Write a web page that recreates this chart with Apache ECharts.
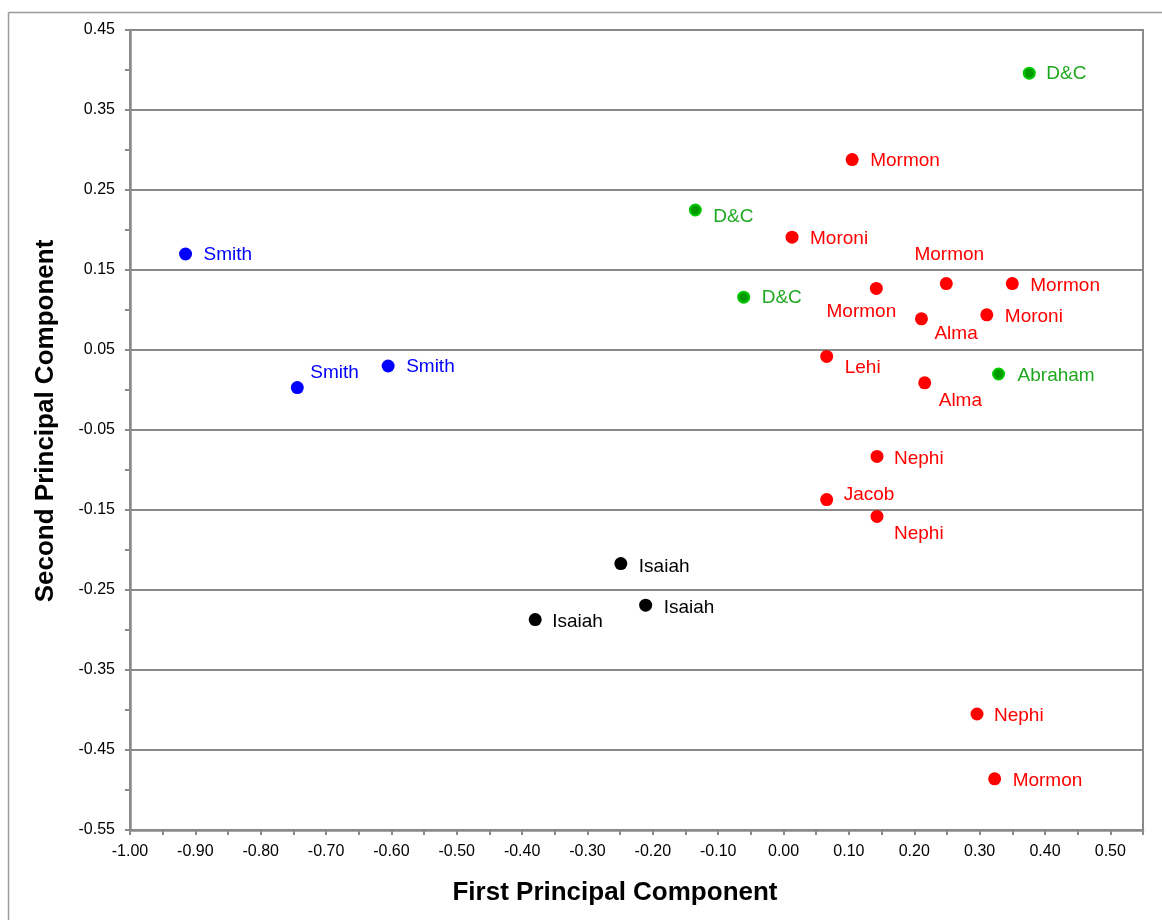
<!DOCTYPE html>
<html>
<head>
<meta charset="utf-8">
<script src="https://cdn.jsdelivr.net/npm/echarts@6/dist/echarts.min.js"></script>
<style>
  html, body { margin: 0; padding: 0; background: #fff; }
  #chart { width: 1162px; height: 920px; }
</style>
</head>
<body>
<div id="chart"></div>
<script>
// ---- Data ----
const blueNames = ['Smith', 'Smith', 'Smith'];
const blueX = [-0.915, -0.744, -0.605];
const blueY = [0.170, 0.003, 0.030];

const greenNames = ['D&C', 'D&C', 'D&C', 'Abraham'];
const greenX = [0.376, -0.135, -0.061, 0.329];
const greenY = [0.396, 0.225, 0.116, 0.020];

const redNames = ['Mormon', 'Moroni', 'Mormon', 'Mormon', 'Mormon', 'Alma', 'Moroni', 'Lehi', 'Alma', 'Nephi', 'Jacob', 'Nephi', 'Nephi', 'Mormon'];
const redX = [0.105, 0.013, 0.142, 0.249, 0.350, 0.211, 0.311, 0.066, 0.216, 0.143, 0.066, 0.143, 0.296, 0.323];
const redY = [0.288, 0.191, 0.127, 0.133, 0.133, 0.089, 0.094, 0.042, 0.009, -0.083, -0.137, -0.158, -0.405, -0.486];

const blackNames = ['Isaiah', 'Isaiah', 'Isaiah'];
const blackX = [-0.249, -0.211, -0.380];
const blackY = [-0.217, -0.269, -0.287];

// ---- Label placement (styling only) ----
const blueLabelPlace = [
  { offset: [0, 1] },
  { offset: [-5, -15] },
  { offset: [0, 1] }
];
const greenLabelPlace = [
  { offset: [-2, 1] },
  { offset: [-1, 7] },
  { offset: [-1, 1] },
  { offset: [0, 2] }
];
const redLabelPlace = [
  { offset: [0, 1] },
  { offset: [0, 2] },
  { position: 'inside', offset: [-15, 23] },
  { position: 'inside', offset: [3, -29] },
  { offset: [0, 2] },
  { offset: [-5, 15] },
  { offset: [0, 2] },
  { offset: [0, 11] },
  { offset: [-4, 18] },
  { offset: [-1, 2] },
  { offset: [-1, -5] },
  { offset: [-1, 17] },
  { offset: [-1, 2] },
  { offset: [0, 2] }
];
const blackLabelPlace = [
  { offset: [0, 3] },
  { offset: [0, 3] },
  { offset: [-1, 2] }
];

const FONT = "'Liberation Sans', Arial, Helvetica, sans-serif";

function build(names, xs, ys, places) {
  return names.map((n, i) => {
    const p = places[i] || {};
    const lab = { offset: p.offset || [0, 2] };
    if (p.position) lab.position = p.position;
    return { name: n, value: [xs[i], ys[i]], label: lab };
  });
}

function scatter(name, data, color, labelColor, extra, labelDistance) {
  return Object.assign({
    name: name,
    type: 'scatter',
    data: data,
    symbol: 'circle',
    symbolSize: 13,
    itemStyle: { color: color, opacity: 1 },
    label: {
      show: true,
      formatter: '{b}',
      position: 'right',
      distance: labelDistance || 11.5,
      color: labelColor,
      fontSize: 19,
      fontFamily: FONT
    },
    emphasis: { disabled: true }
  }, extra || {});
}

const chart = echarts.init(document.getElementById('chart'), null, { renderer: 'canvas' });

const axisGray = '#8a8a8a';

chart.setOption({
  animation: false,
  backgroundColor: '#ffffff',
  grid: {
    left: 130, top: 30, width: 1013, height: 800,
    containLabel: false,
    outerBoundsMode: 'none',
    show: true,
    borderColor: axisGray,
    borderWidth: 2,
    backgroundColor: 'transparent'
  },
  xAxis: {
    type: 'value',
    min: -1.0,
    max: 0.55,
    interval: 0.05,
    axisLine: { show: true, onZero: false, lineStyle: { color: axisGray, width: 2.5 } },
    axisTick: { show: true, length: 5, lineStyle: { color: axisGray, width: 2 } },
    splitLine: { show: false },
    axisLabel: {
      margin: 14,
      fontSize: 16,
      color: '#000',
      fontFamily: FONT,
      showMinLabel: true,
      showMaxLabel: true,
      hideOverlap: false,
      formatter: function (v) {
        const k = Math.round(v * 100);
        return (k % 10 === 0 && k <= 50) ? (k / 100).toFixed(2) : '';
      }
    }
  },
  yAxis: {
    type: 'value',
    min: -0.55,
    max: 0.45,
    interval: 0.1,
    axisLine: { show: true, onZero: false, lineStyle: { color: axisGray, width: 2.5 } },
    axisTick: { show: true, length: 5, lineStyle: { color: axisGray, width: 2 } },
    minorTick: { show: true, splitNumber: 2, length: 5, lineStyle: { color: axisGray, width: 2 } },
    splitLine: { show: true, lineStyle: { color: axisGray, width: 2 } },
    minorSplitLine: { show: false },
    axisLabel: {
      margin: 15,
      fontSize: 16,
      color: '#000',
      fontFamily: FONT,
      showMinLabel: true,
      showMaxLabel: true,
      hideOverlap: false,
      formatter: function (v) { return v.toFixed(2); }
    }
  },
  graphic: [
    {
      type: 'line',
      shape: { x1: 8.5, y1: 12.5, x2: 1162, y2: 12.5 },
      style: { stroke: '#9a9a9a', lineWidth: 1.5 },
      silent: true
    },
    {
      type: 'line',
      shape: { x1: 8.5, y1: 12.5, x2: 8.5, y2: 920 },
      style: { stroke: '#9a9a9a', lineWidth: 1.5 },
      silent: true
    },
    {
      type: 'text',
      x: 615, y: 893,
      style: {
        text: 'First Principal Component',
        fontSize: 26, fontWeight: 'bold', fontFamily: FONT,
        fill: '#000', align: 'center', verticalAlign: 'middle'
      },
      silent: true
    },
    {
      type: 'text',
      x: 46, y: 421,
      rotation: Math.PI / 2,
      style: {
        text: 'Second Principal Component',
        fontSize: 26, fontWeight: 'bold', fontFamily: FONT,
        fill: '#000', align: 'center', verticalAlign: 'middle'
      },
      silent: true
    }
  ],
  series: [
    scatter('Smith', build(blueNames, blueX, blueY, blueLabelPlace), '#0000ff', '#0000ff'),
    scatter('Green', build(greenNames, greenX, greenY, greenLabelPlace), '#009a00', '#1fa81f', {
      symbolSize: 11,
      itemStyle: { color: '#009a00', borderColor: '#00c800', borderWidth: 2, opacity: 1 }
    }, 12.5),
    scatter('Red', build(redNames, redX, redY, redLabelPlace), '#ff0000', '#ff0000'),
    scatter('Black', build(blackNames, blackX, blackY, blackLabelPlace), '#000000', '#000000')
  ]
});
</script>
</body>
</html>
